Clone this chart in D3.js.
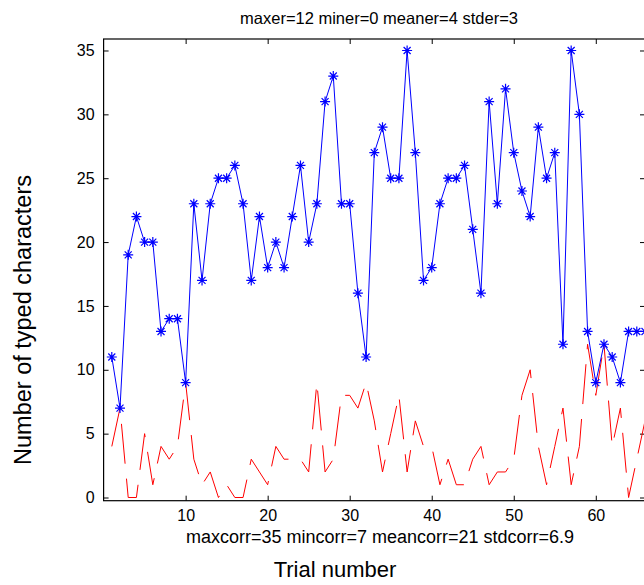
<!DOCTYPE html>
<html>
<head>
<meta charset="utf-8">
<script src="https://cdn.jsdelivr.net/npm/d3@7"></script>
<style>
  body { margin: 0; background: #fff; }
  text { font-family: "Liberation Sans", Arial, sans-serif; }
</style>
</head>
<body>
<div id="chart"></div>
<script>
// trial numbers 1..66
const trials = d3.range(1, 67);

// correctly typed characters per trial (blue, asterisks)
const correct = [11, 7, 19, 22, 20, 20, 13, 14, 14, 9,
                 23, 17, 23, 25, 25, 26, 23, 17, 22, 18,
                 20, 18, 22, 26, 20, 23, 31, 33, 23, 23,
                 16, 11, 27, 29, 25, 25, 35, 27, 17, 18,
                 23, 25, 25, 26, 21, 16, 31, 23, 32, 27,
                 24, 22, 29, 25, 27, 12, 35, 30, 13, 9,
                 12, 11, 9, 13, 13, 13];

// errors per trial (red, dashed)
const errors = [4, 7, 0, 0, 5, 1, 4, 3, 4, 9,
                3, 1, 2, 0, 1, 0, 0, 3, 2, 1,
                4, 3, 3, 3, 2, 9, 2, 3, 8, 8,
                7, 9, 6, 2, 5, 8, 2, 6, 4, 4,
                1, 3, 1, 1, 3, 4, 1, 2, 2, 3,
                8, 10, 4, 1, 4, 7, 1, 4, 12, 8,
                12, 4, 7, 0, 3, 6];

const xTicks = [10, 20, 30, 40, 50, 60];
const yTicks = [0, 5, 10, 15, 20, 25, 30, 35];

const titleText = "maxer=12 miner=0 meaner=4 stder=3";
const statsText = "maxcorr=35 mincorr=7 meancorr=21 stdcorr=6.9";
const xLabel = "Trial number";
const yLabel = "Number of typed characters";

const width = 644, height = 585;
const plot = { left: 103.6, right: 645, top: 39, bottom: 500.7 };

const svg = d3.select("#chart").append("svg")
    .attr("width", width)
    .attr("height", height);

const x = d3.scaleLinear().domain([0, 66]).range([plot.left, plot.right]);
const y = d3.scaleLinear().domain([-0.25, 35.9]).range([plot.bottom, plot.top]);

// --- axes, MATLAB style: ticks inside on all four sides ---
const tick = 5;
svg.append("g")
    .attr("transform", `translate(0,${plot.bottom})`)
    .call(d3.axisBottom(x).tickValues(xTicks).tickSize(-tick).tickPadding(9))
    .call(g => g.select(".domain").remove());
svg.append("g")
    .attr("transform", `translate(0,${plot.top})`)
    .call(d3.axisTop(x).tickValues(xTicks).tickSize(-tick).tickFormat(""))
    .call(g => g.select(".domain").remove());
svg.append("g")
    .attr("transform", `translate(${plot.left},0)`)
    .call(d3.axisLeft(y).tickValues(yTicks).tickSize(-tick).tickPadding(9))
    .call(g => g.select(".domain").remove());
svg.append("g")
    .attr("transform", `translate(${plot.right},0)`)
    .call(d3.axisRight(y).tickValues(yTicks).tickSize(-tick).tickFormat(""))
    .call(g => g.select(".domain").remove());

svg.selectAll(".tick line").attr("stroke", "#000");
svg.selectAll(".tick text")
    .attr("fill", "#000")
    .style("font-size", "16px");

svg.append("rect")
    .attr("x", plot.left).attr("y", plot.top)
    .attr("width", plot.right - plot.left)
    .attr("height", plot.bottom - plot.top)
    .attr("fill", "none")
    .attr("stroke", "#000")
    .attr("stroke-width", 1.2);

// --- lines ---
const line = d3.line().x((d, i) => x(trials[i])).y(d => y(d));

svg.append("path")
    .datum(errors)
    .attr("d", line)
    .attr("fill", "none")
    .attr("stroke", "#ff0000")
    .attr("stroke-width", 1)
    .attr("stroke-dasharray", "40,15");

svg.append("path")
    .datum(correct)
    .attr("d", line)
    .attr("fill", "none")
    .attr("stroke", "#0000ff")
    .attr("stroke-width", 1);

// asterisk markers
const m = 5;
const star = `M${-m},0H${m}M0,${-m}V${m}M${-m * 0.7},${-m * 0.7}L${m * 0.7},${m * 0.7}M${-m * 0.7},${m * 0.7}L${m * 0.7},${-m * 0.7}`;
svg.append("g").selectAll("path")
    .data(correct)
    .join("path")
    .attr("transform", (d, i) => `translate(${x(trials[i])},${y(d)})`)
    .attr("d", star)
    .attr("fill", "none")
    .attr("stroke", "#0000ff")
    .attr("stroke-width", 1.2);

// --- texts ---
svg.append("text")
    .attr("x", 379).attr("y", 24)
    .attr("text-anchor", "middle")
    .style("font-size", "16.5px")
    .text(titleText);

svg.append("text")
    .attr("x", 380).attr("y", 543)
    .attr("text-anchor", "middle")
    .style("font-size", "18px")
    .text(statsText);

svg.append("text")
    .attr("x", 335).attr("y", 577)
    .attr("text-anchor", "middle")
    .style("font-size", "22px")
    .text(xLabel);

svg.append("text")
    .attr("transform", "translate(31,320) rotate(-90)")
    .attr("text-anchor", "middle")
    .style("font-size", "23.5px")
    .text(yLabel);
</script>
</body>
</html>
